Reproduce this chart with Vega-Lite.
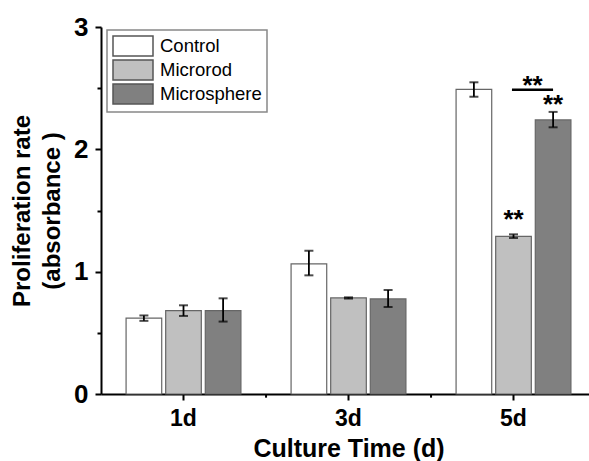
{
  "$schema": "https://vega.github.io/schema/vega-lite/v6.json",
  "width": 488,
  "height": 367,
  "autosize": {"type": "none"},
  "padding": {"left": 101, "top": 27, "right": 0, "bottom": 67},
  "background": "white",
  "config": {
    "view": {"stroke": null},
    "font": "Liberation Sans",
    "legend": {"strokeWidth": 1.5}
  },
  "datasets": {
    "bars": [
      {"day": "1d", "group": "Control", "value": 0.62, "lo": 0.598, "hi": 0.642},
      {"day": "1d", "group": "Microrod", "value": 0.681, "lo": 0.638, "hi": 0.725},
      {"day": "1d", "group": "Microsphere", "value": 0.681, "lo": 0.592, "hi": 0.782},
      {"day": "3d", "group": "Control", "value": 1.063, "lo": 0.97, "hi": 1.171},
      {"day": "3d", "group": "Microrod", "value": 0.785, "lo": 0.78, "hi": 0.79},
      {"day": "3d", "group": "Microsphere", "value": 0.777, "lo": 0.711, "hi": 0.85},
      {"day": "5d", "group": "Control", "value": 2.49, "lo": 2.43, "hi": 2.548},
      {"day": "5d", "group": "Microrod", "value": 1.289, "lo": 1.275, "hi": 1.305},
      {"day": "5d", "group": "Microsphere", "value": 2.24, "lo": 2.18, "hi": 2.306}
    ],
    "stars": [
      {"day": "5d", "group": "Microrod", "y": 1.357, "label": "**"},
      {"day": "5d", "group": "Microsphere", "y": 2.295, "label": "**"}
    ],
    "bracket": [
      {"day": "5d", "y": 2.488, "ystar": 2.452, "label": "**"}
    ],
    "bounds": [{"day": "3d"}, {"day": "5d"}]
  },
  "layer": [
    {
      "data": {"name": "bars"},
      "mark": {"type": "bar", "stroke": "#666666", "strokeWidth": 1.2},
      "encoding": {
        "x": {
          "field": "day", "type": "nominal", "title": "Culture Time (d)",
          "scale": {"domain": ["1d", "3d", "5d"], "range": [0, 495], "paddingInner": 0.28, "paddingOuter": 0.14},
          "axis": {
            "labelAngle": 0, "labelFontSize": 23, "labelFontWeight": "bold", "labelColor": "black", "labelPadding": 7,
            "tickSize": 6, "tickWidth": 2, "tickColor": "black", "domainColor": "black", "domainWidth": 2,
            "titleFontSize": 25, "titleFontWeight": "bold", "titleColor": "black", "titlePadding": 6
          }
        },
        "xOffset": {
          "field": "group", "type": "nominal",
          "scale": {"domain": ["Control", "Microrod", "Microsphere"], "paddingInner": 0.1, "paddingOuter": 0.05}
        },
        "y": {
          "field": "value", "type": "quantitative", "title": ["Proliferation rate", "(absorbance )"],
          "scale": {"domain": [0, 3], "nice": false},
          "axis": {
            "values": [0, 0.5, 1, 1.5, 2, 2.5, 3], "grid": false,
            "labelExpr": "datum.value % 1 === 0 ? format(datum.value, 'd') : ''",
            "labelFontSize": 26, "labelFontWeight": "bold", "labelColor": "black", "labelPadding": 7,
            "tickSize": {"condition": {"test": "datum.value % 1 !== 0", "value": 4}, "value": 6},
            "tickWidth": 2, "tickColor": "black", "domainColor": "black", "domainWidth": 2,
            "titleFontSize": 24, "titleFontWeight": "bold", "titleColor": "black", "titleLineHeight": 30, "titlePadding": 9
          }
        },
        "fill": {
          "field": "group", "type": "nominal",
          "scale": {"domain": ["Control", "Microrod", "Microsphere"], "range": ["#ffffff", "#c0c0c0", "#808080"]},
          "legend": {
            "orient": "none", "legendX": 6, "legendY": 3, "title": null,
            "symbolType": "M-1,-1H3V1H-1Z", "symbolSize": 400, "symbolStrokeColor": "#555555", "symbolStrokeWidth": 1.5,
            "labelFontSize": 18.5, "labelColor": "black", "labelOffset": 26, "padding": 5, "rowPadding": -3,
            "fillColor": "white", "strokeColor": "#888888"
          }
        }
      }
    },
    {
      "data": {"name": "bounds"},
      "mark": {"type": "rule", "color": "black", "strokeWidth": 2},
      "encoding": {
        "x": {"field": "day", "type": "nominal", "bandPosition": -0.194},
        "y": {"datum": 0},
        "y2": {"datum": -0.03}
      }
    },
    {
      "data": {"name": "bars"},
      "mark": {"type": "rule", "color": "black", "strokeWidth": 1.8},
      "encoding": {
        "x": {"field": "day", "type": "nominal"},
        "xOffset": {"field": "group", "type": "nominal"},
        "y": {"field": "lo", "type": "quantitative"},
        "y2": {"field": "hi"}
      }
    },
    {
      "data": {"name": "bars"},
      "mark": {"type": "tick", "orient": "horizontal", "color": "black", "size": 9, "thickness": 2},
      "encoding": {
        "x": {"field": "day", "type": "nominal"},
        "xOffset": {"field": "group", "type": "nominal"},
        "y": {"field": "lo", "type": "quantitative"}
      }
    },
    {
      "data": {"name": "bars"},
      "mark": {"type": "tick", "orient": "horizontal", "color": "black", "size": 9, "thickness": 2},
      "encoding": {
        "x": {"field": "day", "type": "nominal"},
        "xOffset": {"field": "group", "type": "nominal"},
        "y": {"field": "hi", "type": "quantitative"}
      }
    },
    {
      "data": {"name": "stars"},
      "mark": {"type": "text", "fontSize": 26, "fontWeight": "bold", "baseline": "alphabetic", "align": "center", "color": "black"},
      "encoding": {
        "x": {"field": "day", "type": "nominal"},
        "xOffset": {"field": "group", "type": "nominal"},
        "y": {"field": "y", "type": "quantitative"},
        "text": {"field": "label"}
      }
    },
    {
      "data": {"name": "bracket"},
      "mark": {"type": "rule", "color": "black", "strokeWidth": 2.5},
      "encoding": {
        "x": {"field": "day", "type": "nominal", "bandPosition": 0.487},
        "x2": {"field": "day", "bandPosition": 0.833},
        "y": {"field": "y", "type": "quantitative"}
      }
    },
    {
      "data": {"name": "bracket"},
      "mark": {"type": "text", "fontSize": 26, "fontWeight": "bold", "baseline": "alphabetic", "align": "center", "color": "black"},
      "encoding": {
        "x": {"field": "day", "type": "nominal", "bandPosition": 0.66},
        "y": {"field": "ystar", "type": "quantitative"},
        "text": {"field": "label"}
      }
    }
  ]
}
